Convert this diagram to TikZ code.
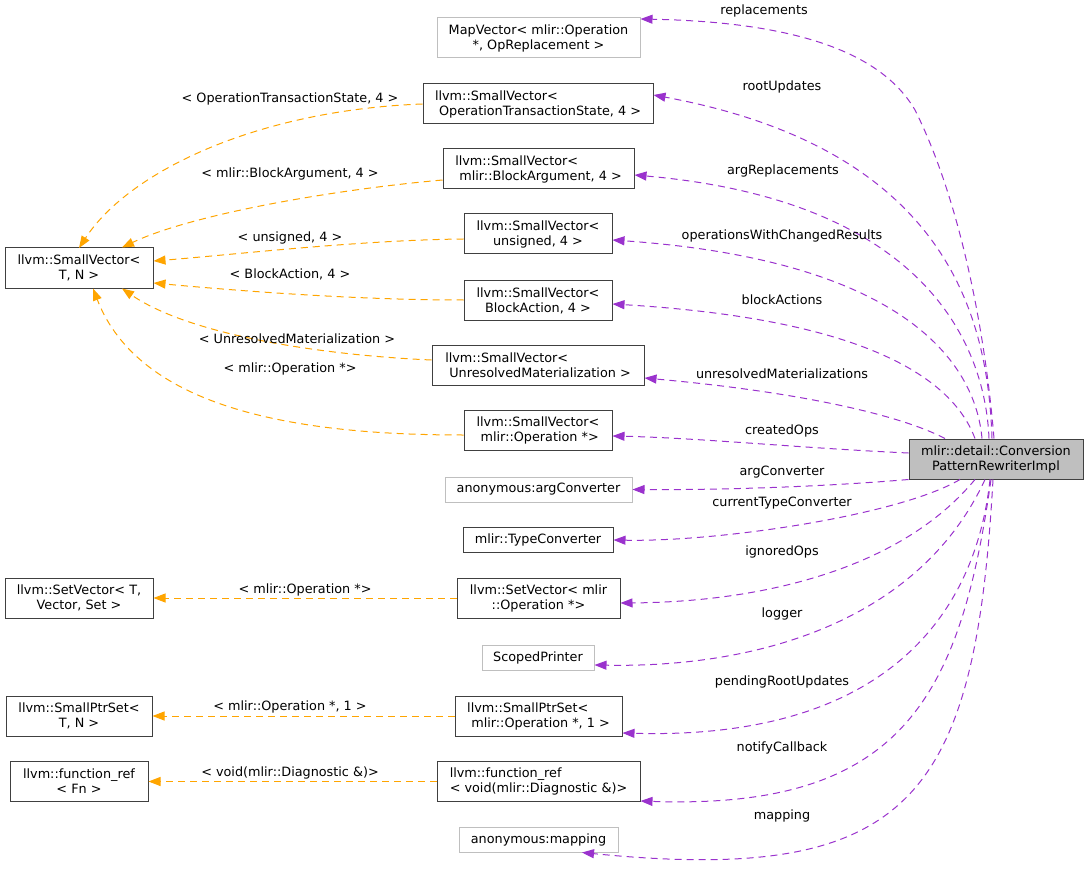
\documentclass[tikz,border=0pt]{standalone}
\usepackage{fontspec}
\setmainfont{DejaVu Sans}
\usetikzlibrary{arrows.meta}
\definecolor{pur}{HTML}{9A32CD}
\definecolor{org}{HTML}{FFA500}
\definecolor{lgray}{HTML}{BFBFBF}
\definecolor{dgray}{HTML}{404040}
\begin{document}
\begin{tikzpicture}[x=1pt,y=-1pt,
  every node/.style={font=\fontsize{12.8}{15}\selectfont, inner sep=0pt},
  cls/.style={draw=dgray, line width=1pt, fill=white},
  ext/.style={draw=lgray, line width=1pt, fill=white},
  twol/.style={minimum height=40pt},
  onel/.style={minimum height=25pt},
  pedge/.style={draw=pur, line width=1pt, dash pattern=on 7pt off 5pt, -{Triangle[length=12pt,width=9pt,fill=pur]}},
  oedge/.style={draw=org, line width=1pt, dash pattern=on 7pt off 5pt, -{Triangle[length=12pt,width=9pt,fill=org]}},
  plabel/.style={text=black},
]
\useasboundingbox (0,0) rectangle (1089,877);

% main node
\node[cls, fill=lgray, twol, minimum width=174pt, align=center] (main) at (996,459) {mlir::detail::Conversion\\PatternRewriterImpl};

% member nodes
\node[ext, twol, minimum width=203pt, align=center] (mapv) at (538.5,38) {MapVector< mlir::Operation\\*, OpReplacement >};
\node[cls, twol, minimum width=230pt, align=left] (sv1) at (538,104) {llvm::SmallVector<\\\ OperationTransactionState, 4 >};
\node[cls, twol, minimum width=191pt, align=left] (sv2) at (538.5,169) {llvm::SmallVector<\\\ mlir::BlockArgument, 4 >};
\node[cls, twol, minimum width=148pt, align=center] (sv3) at (538,234) {llvm::SmallVector<\\unsigned, 4 >};
\node[cls, twol, minimum width=148pt, align=center] (sv4) at (538,300.5) {llvm::SmallVector<\\BlockAction, 4 >};
\node[cls, twol, minimum width=212pt, align=left] (sv5) at (538,365) {llvm::SmallVector<\\\ UnresolvedMaterialization >};
\node[cls, twol, minimum width=148pt, align=left] (sv6) at (538,430) {llvm::SmallVector<\\\ mlir::Operation *>};
\node[ext, onel, minimum width=187pt] (argc) at (538.5,489.5) {anonymous:argConverter};
\node[cls, onel, minimum width=150pt] (tconv) at (538,540) {mlir::TypeConverter};
\node[cls, twol, minimum width=163pt, align=center] (setv) at (538.5,598) {llvm::SetVector< mlir\\::Operation *>};
\node[ext, onel, minimum width=112pt] (sprint) at (538,657.5) {ScopedPrinter};
\node[cls, twol, minimum width=167pt, align=left] (sps) at (538.5,716) {llvm::SmallPtrSet<\\\ mlir::Operation *, 1 >};
\node[cls, twol, minimum width=203pt, align=left] (fref) at (538.5,781) {llvm::function\_ref\\< void(mlir::Diagnostic \&)>};
\node[ext, onel, minimum width=159pt] (amap) at (538.5,839.5) {anonymous:mapping};

% template nodes
\node[cls, twol, minimum width=148pt, align=center] (tsv) at (79,268) {llvm::SmallVector<\\T, N >};
\node[cls, twol, minimum width=148pt, align=center] (tset) at (79,598) {llvm::SetVector< T,\\Vector, Set >};
\node[cls, twol, minimum width=146pt, align=center] (tsps) at (79,716) {llvm::SmallPtrSet<\\T, N >};
\node[cls, twol, minimum width=138pt, align=center] (tfref) at (79,781) {llvm::function\_ref\\< Fn >};

% purple member edges
\draw[pedge] ([xshift=-2pt]main.north) .. controls (985,330) and (960,200) .. (915,110) .. controls (880,50) and (790,22) .. (mapv.east |- 0,19);
\draw[pedge] ([xshift=-4pt]main.north) .. controls (988,320) and (950,150) .. (sv1.east |- 0,95);
\draw[pedge] ([xshift=-7pt]main.north) .. controls (985,340) and (920,200) .. (sv2.east |- 0,175);
\draw[pedge] ([xshift=-14pt]main.north) .. controls (975,360) and (900,260) .. (sv3.east |- 0,240);
\draw[pedge] ([xshift=-21pt]main.north) .. controls (955,385) and (880,320) .. (sv4.east |- 0,304);
\draw[pedge] ([xshift=-51pt]main.north) .. controls (900,415) and (800,392) .. (sv5.east |- 0,378);
\draw[pedge] (main.west |- 0,453) .. controls (800,448) and (700,438) .. (sv6.east |- 0,436);
\draw[pedge] (main.south west) .. controls (820,487) and (720,490) .. (argc.east);
\draw[pedge] ([xshift=-36pt]main.south) .. controls (900,515) and (720,542) .. (tconv.east);
\draw[pedge] ([xshift=-21pt]main.south) .. controls (900,570) and (760,602) .. (setv.east |- 0,603);
\draw[pedge] ([xshift=-11pt]main.south) .. controls (920,620) and (760,668) .. (sprint.east |- 0,665);
\draw[pedge] ([xshift=-6pt]main.south) .. controls (975,620) and (880,740) .. (sps.east |- 0,733);
\draw[pedge] ([xshift=-5pt]main.south) .. controls (960,700) and (900,810) .. (fref.east |- 0,801);
\draw[pedge] ([xshift=-3pt]main.south) .. controls (975,800) and (910,885) .. (582,852.5);

% purple labels
\node[plabel] (l1) at (764,11) {replacements};
\node[plabel] (l2) at (782,87) {rootUpdates};
\node[plabel] (l3) at (783,171) {argReplacements};
\node[plabel] (l4) at (782,236) {operationsWithChangedResults};
\node[plabel] (l5) at (782,300) {blockActions};
\node[plabel] (l6) at (782,374) {unresolvedMaterializations};
\node[plabel] (l7) at (782,431) {createdOps};
\node[plabel] (l8) at (782,472) {argConverter};
\node[plabel] (l9) at (782,503) {currentTypeConverter};
\node[plabel] (l10) at (782,552) {ignoredOps};
\node[plabel] (l11) at (782,614) {logger};
\node[plabel] (l12) at (782,682) {pendingRootUpdates};
\node[plabel] (l13) at (782,748) {notifyCallback};
\node[plabel] (l14) at (782,816) {mapping};

% orange template edges
\draw[oedge] (sv1.west) .. controls (260,110) and (130,170) .. (tsv.north |- 0,248);
\draw[oedge] (sv2.west |- 0,180) .. controls (330,190) and (190,215) .. ([xshift=43pt]tsv.north);
\draw[oedge] (sv3.west |- 0,239) .. controls (360,240) and (230,255) .. (tsv.east |- 0,261);
\draw[oedge] (sv4.west |- 0,300) .. controls (350,300) and (230,290) .. (tsv.east |- 0,283);
\draw[oedge] (sv5.west |- 0,360) .. controls (320,355) and (190,335) .. ([xshift=43pt]tsv.south);
\draw[oedge] (sv6.west |- 0,435) .. controls (300,435) and (140,410) .. ([xshift=14pt]tsv.south);
\draw[oedge] (setv.west) -- (tset.east);
\draw[oedge] (sps.west) -- (tsps.east);
\draw[oedge] (fref.west |- 0,781.5) -- (tfref.east |- 0,781.5);

% orange labels
\node (o1) at (290,99) {< OperationTransactionState, 4 >};
\node (o2) at (290,174) {< mlir::BlockArgument, 4 >};
\node (o3) at (290,238) {< unsigned, 4 >};
\node (o4) at (290,274) {< BlockAction, 4 >};
\node (o5) at (297,339) {< UnresolvedMaterialization >};
\node (o6) at (290,369) {< mlir::Operation *>};
\node (o7) at (305,590) {< mlir::Operation *>};
\node (o8) at (290,707) {< mlir::Operation *, 1 >};
\node (o9) at (290,773) {< void(mlir::Diagnostic \&)>};
\end{tikzpicture}
\end{document}
